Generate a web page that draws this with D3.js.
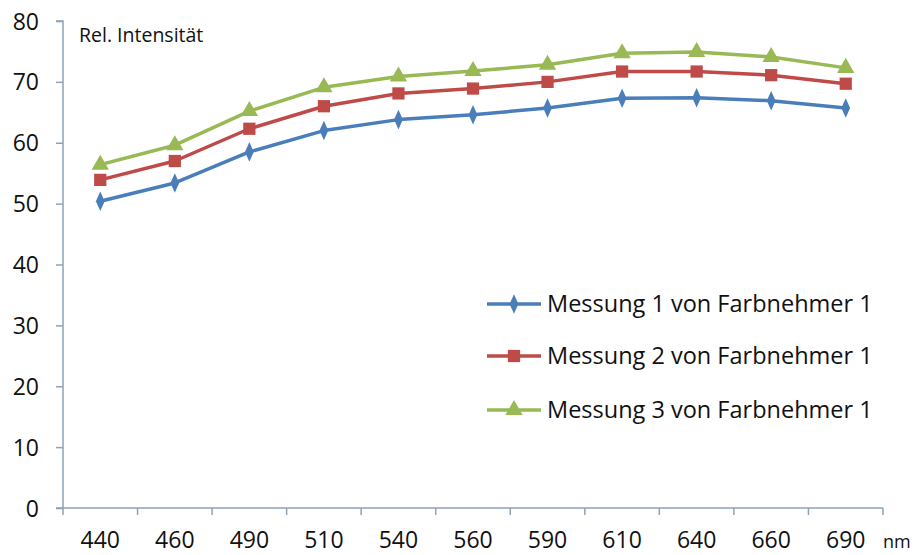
<!DOCTYPE html>
<html>
<head>
<meta charset="utf-8">
<script src="https://cdn.jsdelivr.net/npm/d3@7"></script>
<style>
  body { margin: 0; background: #fff; }
  text { font-family: "Open Sans", sans-serif; fill: #111; }
</style>
</head>
<body>
<script>
const wavelengths = ["440", "460", "490", "510", "540", "560", "590", "610", "640", "660", "690"];
const messung1 = [50.4, 53.4, 58.5, 62.0, 63.8, 64.6, 65.7, 67.3, 67.4, 66.9, 65.7];
const messung2 = [53.9, 57.0, 62.3, 66.0, 68.1, 68.9, 70.0, 71.7, 71.7, 71.1, 69.7];
const messung3 = [56.4, 59.6, 65.2, 69.1, 70.9, 71.8, 72.8, 74.7, 74.9, 74.1, 72.3];
const seriesNames = ["Messung 1 von Farbnehmer 1", "Messung 2 von Farbnehmer 1", "Messung 3 von Farbnehmer 1"];
const yTicks = [0, 10, 20, 30, 40, 50, 60, 70, 80];

const width = 915, height = 555;
const margin = { top: 21, right: 32, bottom: 47, left: 63 };

const series = [
  { name: seriesNames[0], values: messung1, color: "#4A7EBB", symbol: d3.symbolDiamond, size: 110, sx: 0.78 },
  { name: seriesNames[1], values: messung2, color: "#BE4B48", symbol: d3.symbolSquare, size: 150, sx: 1 },
  { name: seriesNames[2], values: messung3, color: "#98B954", symbol: d3.symbolTriangle, size: 130, sx: 1 }
];

const svg = d3.select("body").append("svg")
  .attr("width", width)
  .attr("height", height);

const x = d3.scaleBand()
  .domain(wavelengths)
  .range([margin.left, width - margin.right]);

const y = d3.scaleLinear()
  .domain([0, 80])
  .range([height - margin.bottom, margin.top]);

const axisColor = "#8CA2B6";

// y axis
const yAxis = svg.append("g")
  .attr("transform", `translate(${margin.left},0)`)
  .call(d3.axisLeft(y).tickValues(yTicks).tickSize(7).tickPadding(17));
yAxis.select(".domain").attr("stroke", axisColor).attr("stroke-width", 1.5)
  .attr("d", `M-7,${y(80)}H0V${y(0)}`);
yAxis.selectAll(".tick line").attr("stroke", axisColor).attr("stroke-width", 1.5);
yAxis.selectAll(".tick text").attr("font-size", 23).attr("dy", "0.35em");

// x axis: ticks at category boundaries
const xAxisG = svg.append("g")
  .attr("transform", `translate(0,${y(0)})`);
xAxisG.append("line")
  .attr("x1", margin.left - 7).attr("x2", width - margin.right)
  .attr("stroke", axisColor).attr("stroke-width", 1.5);
const bounds = wavelengths.map(w => x(w)).concat([x(wavelengths[wavelengths.length - 1]) + x.bandwidth()]);
xAxisG.selectAll(".xtick").data(bounds).join("line")
  .attr("x1", d => d).attr("x2", d => d)
  .attr("y1", 0).attr("y2", 7)
  .attr("stroke", axisColor).attr("stroke-width", 1.5);
xAxisG.selectAll(".xlab").data(wavelengths).join("text")
  .attr("x", d => x(d) + x.bandwidth() / 2)
  .attr("y", 40)
  .attr("text-anchor", "middle")
  .attr("font-size", 23)
  .text(d => d);

svg.append("text")
  .attr("x", 883).attr("y", 548)
  .attr("font-size", 18)
  .text("nm");

svg.append("text")
  .attr("x", 79).attr("y", 42)
  .attr("font-size", 19.5)
  .text("Rel. Intensität");

// lines + markers
const line = d3.line()
  .x((d, i) => x(wavelengths[i]) + x.bandwidth() / 2)
  .y(d => y(d));

series.forEach(s => {
  svg.append("path")
    .datum(s.values)
    .attr("fill", "none")
    .attr("stroke", s.color)
    .attr("stroke-width", 3.5)
    .attr("stroke-linejoin", "round")
    .attr("d", line);
  svg.append("g").selectAll("path").data(s.values).join("path")
    .attr("transform", (d, i) => `translate(${x(wavelengths[i]) + x.bandwidth() / 2},${y(d)}) scale(${s.sx},1)`)
    .attr("d", d3.symbol().type(s.symbol).size(s.size))
    .attr("fill", s.color);
});

// legend
const legend = svg.append("g");
const legendY = [304, 356, 410];
series.forEach((s, i) => {
  const g = legend.append("g").attr("transform", `translate(487,${legendY[i]})`);
  g.append("line").attr("x1", 0).attr("x2", 54)
    .attr("stroke", s.color).attr("stroke-width", 3.5);
  g.append("path")
    .attr("transform", `translate(27,0) scale(${s.sx},1)`)
    .attr("d", d3.symbol().type(s.symbol).size(s.size))
    .attr("fill", s.color);
  g.append("text")
    .attr("x", 60).attr("y", 0).attr("dy", "0.35em")
    .attr("font-size", 23.5)
    .text(s.name);
});
</script>
</body>
</html>
